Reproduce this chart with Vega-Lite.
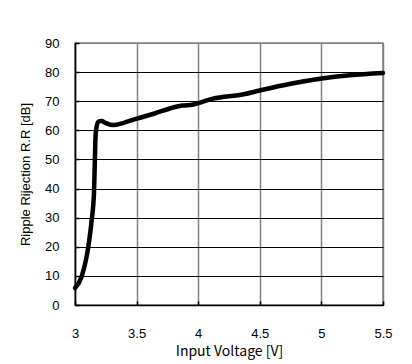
{
  "$schema": "https://vega.github.io/schema/vega-lite/v6.json",
  "width": 308,
  "height": 262,
  "autosize": "none",
  "padding": {"left": 75, "top": 43, "right": 29, "bottom": 59},
  "background": "white",
  "config": {
    "view": {"stroke": "#808080", "strokeWidth": 1.5},
    "axis": {"labelFont": "Liberation Sans", "labelFontSize": 13, "labelColor": "black", "titleFont": "Noto Sans CJK JP", "titleFontSize": 14, "titleFontWeight": "normal", "titleColor": "black"}
  },
  "data": {"values": [
    {"v": 3.0, "rr": 5.8},
    {"v": 3.054, "rr": 9.8},
    {"v": 3.108, "rr": 20},
    {"v": 3.135, "rr": 29},
    {"v": 3.154, "rr": 38.4},
    {"v": 3.16, "rr": 47.5},
    {"v": 3.168, "rr": 58.9},
    {"v": 3.187, "rr": 62.9},
    {"v": 3.214, "rr": 63.2},
    {"v": 3.25, "rr": 62.5},
    {"v": 3.31, "rr": 61.8},
    {"v": 3.39, "rr": 62.5},
    {"v": 3.5, "rr": 64},
    {"v": 3.64, "rr": 65.7},
    {"v": 3.77, "rr": 67.5},
    {"v": 3.87, "rr": 68.5},
    {"v": 3.95, "rr": 68.8},
    {"v": 4.12, "rr": 70.9},
    {"v": 4.37, "rr": 72.4},
    {"v": 4.5, "rr": 73.7},
    {"v": 4.75, "rr": 76},
    {"v": 4.99, "rr": 77.7},
    {"v": 5.23, "rr": 78.9},
    {"v": 5.5, "rr": 79.7}
  ]},
  "mark": {"type": "line", "color": "black", "strokeWidth": 4.5, "interpolate": "monotone", "strokeCap": "round", "strokeJoin": "round"},
  "encoding": {
    "x": {
      "field": "v", "type": "quantitative",
      "scale": {"domain": [3, 5.5], "nice": false, "zero": false},
      "axis": {
        "values": [3, 3.5, 4, 4.5, 5, 5.5],
        "format": "~g",
        "title": "Input Voltage [V]",
        "labelPadding": 26,
        "titlePadding": 4,
        "domainColor": "black", "domainWidth": 1.5,
        "tickColor": "black", "tickSize": -4, "tickWidth": 1.5,
        "gridColor": "#808080", "gridWidth": 1.5, "gridOpacity": 1,
        "labelFlush": false
      }
    },
    "y": {
      "field": "rr", "type": "quantitative",
      "scale": {"domain": [0, 90], "nice": false},
      "axis": {
        "values": [0, 10, 20, 30, 40, 50, 60, 70, 80, 90],
        "title": "Ripple Rijection R.R [dB]",
        "titleFont": "Liberation Sans",
        "titleFontSize": 13,
        "labelPadding": 20,
        "titlePadding": 12,
        "domainColor": "black", "domainWidth": 1.5,
        "tickColor": "black", "tickSize": -4, "tickWidth": 1.5,
        "gridColor": {"condition": {"test": "datum.value == 90", "value": "#808080"}, "value": "black"},
        "gridWidth": 1, "gridOpacity": 1,
        "labelFlush": false
      }
    }
  }
}
